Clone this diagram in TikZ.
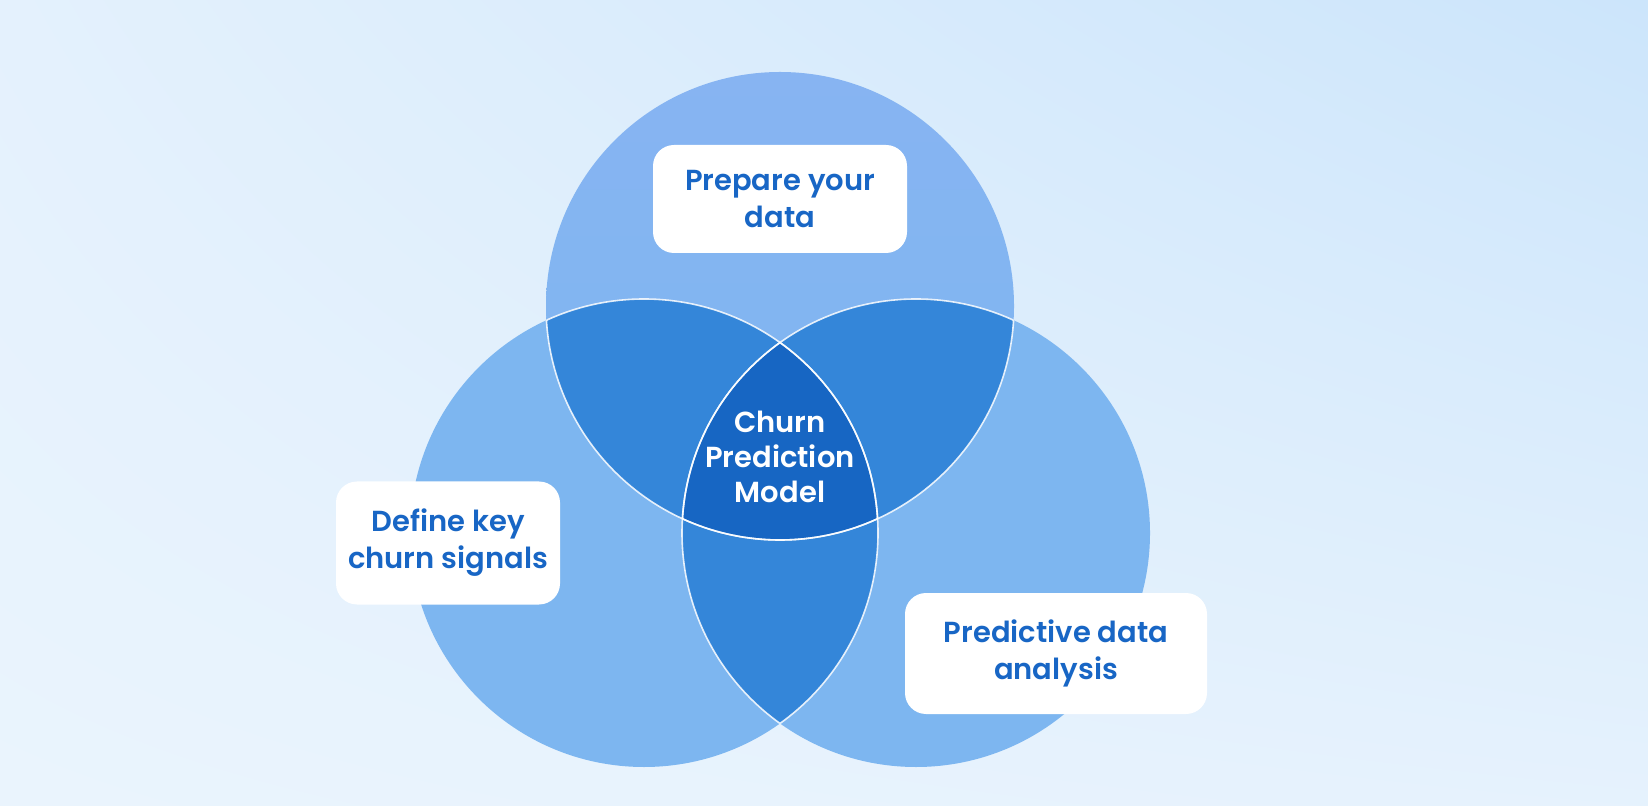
\documentclass[tikz,border=0pt]{standalone}
\usepackage{fontspec}
\setmainfont{Poppins}[BoldFont={Poppins SemiBold}]
\usetikzlibrary{positioning,shadings}

\definecolor{bgpale}{HTML}{EAF4FD}
\definecolor{bgsky}{HTML}{CCE5FB}
\definecolor{vennfill}{HTML}{7DB6F0}
\definecolor{venntop}{HTML}{87B4F2}
\definecolor{pairfill}{HTML}{3486D9}
\definecolor{corefill}{HTML}{1766C3}
\definecolor{labelblue}{HTML}{1866C5}

\begin{document}
\begin{tikzpicture}[x=0.5pt,y=-0.5pt,
    label box/.style={fill=white, rounded corners=10.5pt, inner sep=0pt, align=center,
        text=labelblue, font=\bfseries\fontsize{14.5}{18.5}\selectfont},
    core text/.style={align=center, text=white, font=\bfseries\fontsize{14.5}{17.5}\selectfont},
    rim/.style={white, opacity=0.85, line width=0.8pt}]

    \useasboundingbox (0,0) rectangle (1648,806);
    \shade[upper left=bgpale!80!bgsky, upper right=bgsky, lower left=bgpale, lower right=bgpale!85!bgsky]
        (0,0) rectangle (1648,806);

    % centres of the three circles
    \coordinate (topc) at (780,306);
    \coordinate (leftc) at (644,533);
    \coordinate (rightc) at (916,533);

    \shade[top color=venntop, bottom color=vennfill] (topc) circle (234);
    \fill[vennfill] (leftc) circle (234);
    \fill[vennfill] (rightc) circle (234);

    % pairwise overlaps
    \begin{scope}
        \clip (topc) circle (234);
        \fill[pairfill] (leftc) circle (234);
        \fill[pairfill] (rightc) circle (234);
    \end{scope}
    \begin{scope}
        \clip (leftc) circle (234);
        \fill[pairfill] (rightc) circle (234);
    \end{scope}
    % all three
    \begin{scope}
        \clip (topc) circle (234);
        \clip (leftc) circle (234);
        \fill[corefill] (rightc) circle (234);
    \end{scope}

    % inner rims
    \foreach \a/\b in {topc/leftc, topc/rightc, leftc/topc, leftc/rightc, rightc/topc, rightc/leftc} {
        \begin{scope}
            \clip (\b) circle (234);
            \draw[rim] (\a) circle (234);
        \end{scope}
    }

    \node[core text] (model) at (780,457) {Churn\\Prediction\\Model};

    \node[label box, minimum width=127pt, minimum height=54pt] (prep) at (780,199) {Prepare your\\data};
    \node[label box, minimum width=112pt, minimum height=61.5pt] (signals) at (448,543) {Define key\\churn signals};
    \node[label box, minimum width=151pt, minimum height=60.5pt] (analysis) at (1056,653.5) {Predictive data\\analysis};
\end{tikzpicture}
\end{document}
